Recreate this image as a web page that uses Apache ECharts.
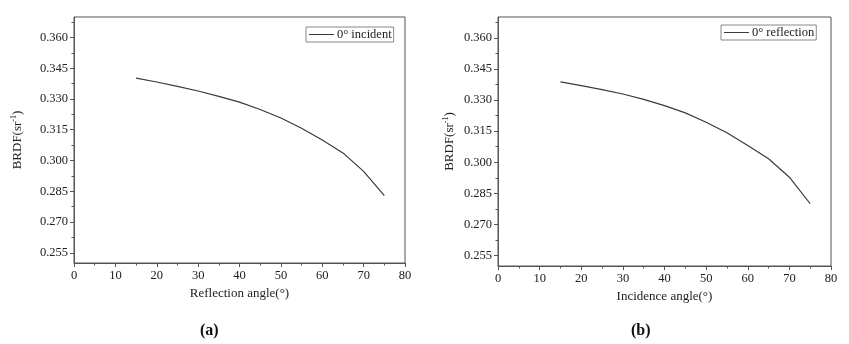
<!DOCTYPE html>
<html>
<head>
<meta charset="utf-8">
<script src="https://cdn.jsdelivr.net/npm/echarts@6/dist/echarts.min.js"></script>
<style>html,body{margin:0;padding:0;background:#fff}#c{width:849px;height:344px}</style>
</head>
<body>
<div id="c"></div>
<script>
const anglesA = [15, 20, 25, 30, 35, 40, 45, 50, 55, 60, 65, 70, 75];
const brdfA = [0.3402, 0.3383, 0.3362, 0.3339, 0.3313, 0.3285, 0.3249, 0.3207, 0.3157, 0.3100, 0.3037, 0.2947, 0.2829];
const anglesB = [15, 20, 25, 30, 35, 40, 45, 50, 55, 60, 65, 70, 75];
const brdfB = [0.3387, 0.3369, 0.3350, 0.3329, 0.3303, 0.3273, 0.3238, 0.3193, 0.3142, 0.3081, 0.3017, 0.2928, 0.2800];
const yMajorTicks = [0.255, 0.270, 0.285, 0.300, 0.315, 0.330, 0.345, 0.360];
const yMinorTicks = [0.2625, 0.2775, 0.2925, 0.3075, 0.3225, 0.3375, 0.3525, 0.3675];
const xTicks = [0, 10, 20, 30, 40, 50, 60, 70, 80];
const seriesNames = ['0° incident', '0° reflection'];
const xTitles = ['Reflection angle(°)', 'Incidence angle(°)'];
const captions = ['a', 'b'];

const FONT = 'Liberation Serif';
const TXT = '#222';
const AX = '#555';

function xAxis(i, gap) {
  return {
    type: 'value', gridIndex: i, min: xTicks[0], max: xTicks[xTicks.length - 1], interval: 10,
    name: xTitles[i], nameLocation: 'middle', nameGap: gap,
    nameTextStyle: { fontFamily: FONT, fontSize: 13, color: TXT },
    axisLine: { show: true, lineStyle: { color: AX, width: 1 } },
    axisTick: { show: true, length: 4, lineStyle: { color: AX } },
    minorTick: { show: true, splitNumber: 2, length: 2.5, lineStyle: { color: AX } },
    axisLabel: { fontFamily: FONT, fontSize: 12.5, color: TXT, margin: 6 },
    splitLine: { show: false }
  };
}
function yAxisMajor(i, gap) {
  return {
    type: 'value', gridIndex: i, min: 0.25, max: 0.37,
    name: '{a|BRDF(sr}{s|-1}{a|)}', nameLocation: 'middle', nameGap: gap, nameRotate: 90,
    nameTextStyle: { fontFamily: FONT, fontSize: 13, color: TXT,
      rich: { a: { fontFamily: FONT, fontSize: 13, color: TXT, verticalAlign: 'bottom' },
              s: { fontFamily: FONT, fontSize: 8, color: TXT, verticalAlign: 'top', padding: [0, 0, 6, 0] } } },
    axisLine: { show: true, lineStyle: { color: AX, width: 1 } },
    axisTick: { show: true, length: 4, customValues: yMajorTicks, lineStyle: { color: AX } },
    axisLabel: { fontFamily: FONT, fontSize: 12.5, color: TXT, margin: 6, customValues: yMajorTicks,
      formatter: v => v.toFixed(3) },
    splitLine: { show: false }
  };
}
function yAxisMinor(i) {
  return {
    type: 'value', gridIndex: i, min: 0.25, max: 0.37, position: 'left',
    axisLine: { show: false },
    axisTick: { show: true, length: 2.5, customValues: yMinorTicks, lineStyle: { color: AX } },
    axisLabel: { show: false },
    splitLine: { show: false }
  };
}

const option = {
  animation: false,
  backgroundColor: '#fff',
  grid: [
    { left: 74, top: 17, width: 331, height: 246, show: true, borderColor: AX, borderWidth: 1, backgroundColor: 'transparent' },
    { left: 498, top: 17, width: 333, height: 249, show: true, borderColor: AX, borderWidth: 1, backgroundColor: 'transparent' }
  ],
  xAxis: [xAxis(0, 24), xAxis(1, 22)],
  yAxis: [yAxisMajor(0, 50), yAxisMinor(0), yAxisMajor(1, 42), yAxisMinor(1)],
  legend: [
    { data: [seriesNames[0]], left: 306, top: 27, icon: 'rect', itemWidth: 25, itemHeight: 1, itemGap: 4,
      padding: [1, 2, 1, 3], borderColor: '#888', borderWidth: 1, borderRadius: 0,
      textStyle: { fontFamily: FONT, fontSize: 12.5, color: TXT, padding: [0, 0, 0, -2] } },
    { data: [seriesNames[1]], left: 721, top: 25, icon: 'rect', itemWidth: 25, itemHeight: 1, itemGap: 4,
      padding: [1, 2, 1, 3], borderColor: '#888', borderWidth: 1, borderRadius: 0,
      textStyle: { fontFamily: FONT, fontSize: 12.5, color: TXT, padding: [0, 0, 0, -2] } }
  ],
  title: [
    { text: '(' + captions[0] + ')', left: 195, top: 318, textStyle: { fontFamily: FONT, fontSize: 16, fontWeight: 'bold', color: '#111' } },
    { text: '(' + captions[1] + ')', left: 626, top: 318, textStyle: { fontFamily: FONT, fontSize: 16, fontWeight: 'bold', color: '#111' } }
  ],
  series: [
    { name: seriesNames[0], type: 'line', xAxisIndex: 0, yAxisIndex: 0, showSymbol: false, symbol: 'none',
      lineStyle: { color: '#3a3a3a', width: 1.2 }, itemStyle: { color: '#3a3a3a' },
      data: anglesA.map((a, k) => [a, brdfA[k]]) },
    { name: seriesNames[1], type: 'line', xAxisIndex: 1, yAxisIndex: 2, showSymbol: false, symbol: 'none',
      lineStyle: { color: '#3a3a3a', width: 1.2 }, itemStyle: { color: '#3a3a3a' },
      data: anglesB.map((a, k) => [a, brdfB[k]]) }
  ]
};
const chart = echarts.init(document.getElementById('c'), null, { renderer: 'canvas' });
chart.setOption(option);
</script>
</body>
</html>
